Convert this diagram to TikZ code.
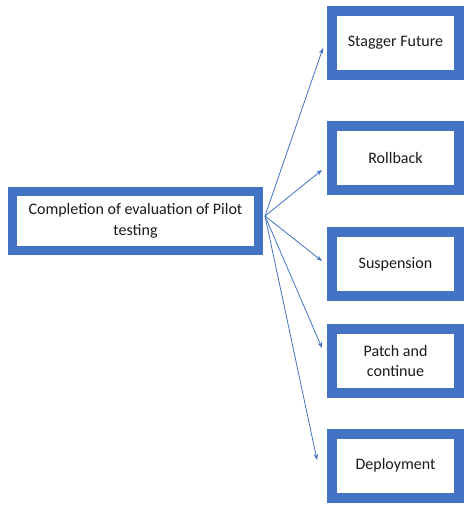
\documentclass[tikz,border=0pt]{standalone}
\usepackage{fontspec}
\setmainfont{Carlito}
\usetikzlibrary{arrows.meta}
\definecolor{boxblue}{HTML}{4472C4}
\definecolor{txt}{HTML}{1A1A1A}
\tikzset{
  thickbox/.style={draw=boxblue, line width=10pt, fill=white, text=txt,
    minimum width=127pt, minimum height=64pt, inner sep=2pt, align=center,
    font=\fontsize{16}{20.5}\selectfont},
  mainbox/.style={thickbox, line width=9pt, minimum width=246pt, minimum height=59pt},
  conn/.style={draw=boxblue, line width=0.8pt, -{Stealth[length=6pt,width=4.5pt]}}
}
\begin{document}
\begin{tikzpicture}[x=1pt,y=-1pt]
\useasboundingbox (0,0) rectangle (474,511);
\node[mainbox] (main) at (135.5,221) {Completion of evaluation of Pilot\\testing};
\node[thickbox] (stagger) at (395.5,43) {Stagger Future};
\node[thickbox] (rollback) at (395.5,158) {Rollback};
\node[thickbox] (susp) at (395.5,264) {Suspension};
\node[thickbox] (patch) at (395.5,361) {Patch and\\continue};
\node[thickbox] (deploy) at (395.5,465.5) {Deployment};
\coordinate (src) at ([xshift=2pt,yshift=5pt]main.east);
\draw[conn] (src) -- ([xshift=-4pt,yshift=-5pt]stagger.west);
\draw[conn] (src) -- ([xshift=-5pt,yshift=-12pt]rollback.west);
\draw[conn] (src) -- ([xshift=-5pt,yshift=3pt]susp.west);
\draw[conn] (src) -- ([xshift=-5pt,yshift=13pt]patch.west);
\draw[conn] (src) -- ([xshift=-10pt,yshift=5.5pt]deploy.west);
\end{tikzpicture}
\end{document}
